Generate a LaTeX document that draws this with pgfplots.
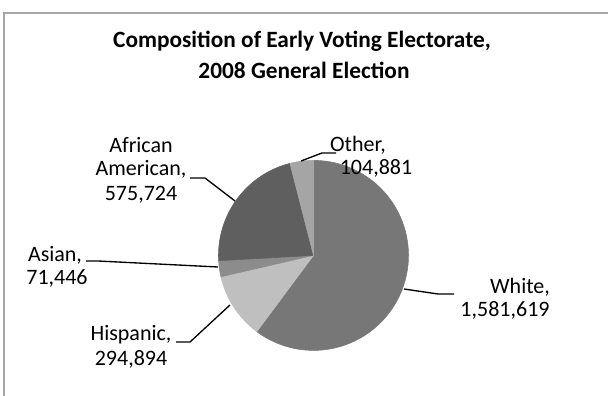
\documentclass[border=0pt]{standalone}
\usepackage{pgfplots}
\pgfplotsset{compat=1.18}
\usepgfplotslibrary{polar}
\usepackage{fontspec}
\setmainfont{Carlito}
\definecolor{cWhite}{HTML}{777777}
\definecolor{cHisp}{HTML}{BFBFBF}
\definecolor{cAsian}{HTML}{8C8C8C}
\definecolor{cAfAm}{HTML}{5F5F5F}
\definecolor{cOther}{HTML}{A5A5A5}
\definecolor{frame}{HTML}{A6A6A6}
% data (votes)
\def\vW{1581619}
\def\vH{294894}
\def\vA{71446}
\def\vB{575724}
\def\vO{104881}
\edef\tot{\fpeval{\vW+\vH+\vA+\vB+\vO}}
\edef\aO{90}
\edef\aI{\fpeval{90-360*\vW/\tot}}
\edef\aII{\fpeval{\aI-360*\vH/\tot}}
\edef\aIII{\fpeval{\aII-360*\vA/\tot}}
\edef\aIV{\fpeval{\aIII-360*\vB/\tot}}
\edef\aV{\fpeval{\aIV-360*\vO/\tot}}
\begin{document}
\begin{tikzpicture}[x=0.75pt,y=0.75pt]
\useasboundingbox (0,0) rectangle (608,396);
\fill[white] (0,0) rectangle (608,396);
\draw[frame,line width=1.1pt] (4,-2) -- (4,383) -- (610,383);
\begin{polaraxis}[
  at={(330,148)}, anchor=center,
  scale only axis, width=142.5pt, height=142.5pt,
  ymin=0, ymax=1, hide axis, clip=false]
\addplot[draw=cWhite, fill=cWhite, domain=\aI:\aO, samples=120] {1} -- (axis cs:0,0) -- cycle;
\addplot[draw=cHisp, fill=cHisp, domain=\aII:\aI, samples=40] {1} -- (axis cs:0,0) -- cycle;
\addplot[draw=cAsian, fill=cAsian, domain=\aIII:\aII, samples=15] {1} -- (axis cs:0,0) -- cycle;
\addplot[draw=cAfAm, fill=cAfAm, domain=\aIV:\aIII, samples=60] {1} -- (axis cs:0,0) -- cycle;
\addplot[draw=cOther, fill=cOther, domain=\aV:\aIV, samples=20] {1} -- (axis cs:0,0) -- cycle;
\end{polaraxis}
% title
\node[font=\fontsize{17.5}{22}\selectfont\bfseries, anchor=base] at (302,348) {Composition of Early Voting Electorate,};
\node[font=\fontsize{17.5}{22}\selectfont\bfseries, anchor=base] at (304,317) {2008 General Election};
% labels
\tikzset{lab/.style={font=\fontsize{16.5}{18}\selectfont, anchor=base}}
\node[lab] at (358,244) {Other,};
\node[lab] at (376,221) {104,881};
\node[lab] at (141,243) {African};
\node[lab] at (141,220) {American,};
\node[lab] at (141,195) {575,724};
\node[lab] at (55,134) {Asian,};
\node[lab] at (57,111) {71,446};
\node[lab] at (131,55) {Hispanic,};
\node[lab] at (131,30) {294,894};
\node[lab] at (520,102) {White,};
\node[lab] at (505,79) {1,581,619};
% leader lines
\draw[black, line width=1pt] (301,235) -- (322,243) -- (336,243);
\draw[black, line width=1pt] (190,218) -- (205,218) -- (235,195);
\draw[black, line width=1pt] (86,135) -- (98,135) -- (218,129);
\draw[black, line width=1pt] (176,54) -- (190,54) -- (230,91);
\draw[black, line width=1pt] (404,107) -- (438,102) -- (454,102);
\end{tikzpicture}
\end{document}
